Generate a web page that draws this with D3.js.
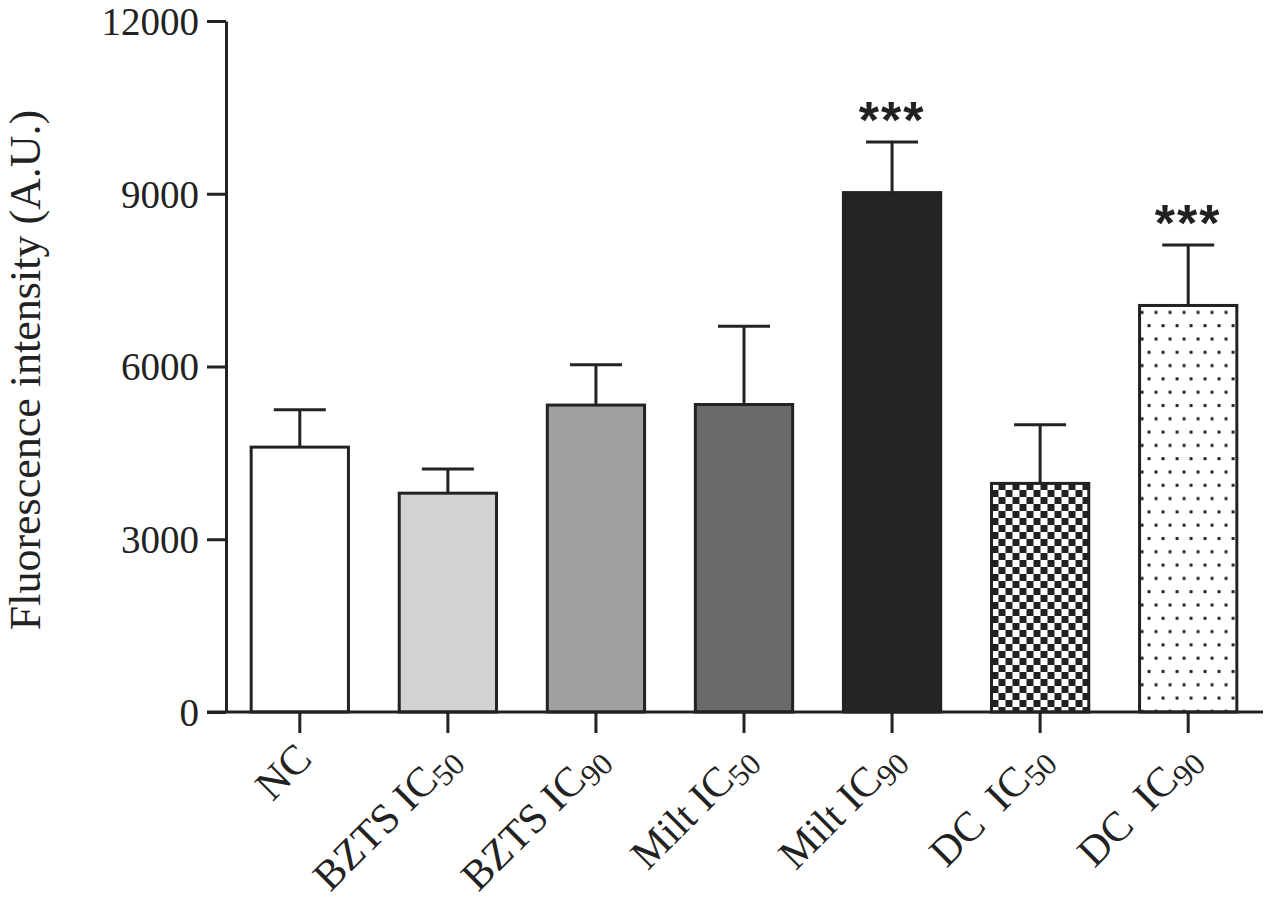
<!DOCTYPE html>
<html>
<head>
<meta charset="utf-8">
<script src="https://cdn.jsdelivr.net/npm/d3@7"></script>
<style>
  body { margin: 0; background: #fff; }
  svg { display: block; }
  text { font-family: "Liberation Serif", "Times New Roman", serif; fill: #222; }
</style>
</head>
<body>
<svg id="grafica" width="1267" height="903"></svg>
<script>
// groups on the x axis, main label + subscript
var groups = ["NC", "BZTS IC50", "BZTS IC90", "Milt IC50", "Milt IC90", "DC IC50", "DC IC90"]
var labelMain = ["NC", "BZTS IC", "BZTS IC", "Milt IC", "Milt IC", "DC  IC", "DC  IC"]
var labelSub = ["", "50", "90", "50", "90", "50", "90"]
var means = [4600, 3800, 5330, 5340, 9020, 3970, 7060]
var errors = [650, 420, 700, 1360, 880, 1020, 1050]
var stars = ["", "", "", "", "***", "", "***"]
var yTicks = [0, 3000, 6000, 9000, 12000]

var fills = ["#ffffff", "#d2d2d2", "#a0a0a0", "#6a6a6a", "#242424", "url(#checker)", "url(#dots)"]

var data = groups.map((g, i) => ({
	name: g, main: labelMain[i], sub: labelSub[i],
	value: means[i], err: errors[i], star: stars[i], fill: fills[i]
}))

var svg = d3.select("#grafica"),
	ink = "#222"

var x = d3.scaleBand()
	.domain(groups)
	.range([226, 1262])
	.paddingInner(0.343)
	.paddingOuter(0.17)

var y = d3.scaleLinear()
	.domain([0, 12000])
	.range([712, 21])

// patterns for the DC bars
var defs = svg.append("defs")
var checker = defs.append("pattern")
	.attr("id", "checker")
	.attr("patternUnits", "userSpaceOnUse")
	.attr("x", x("DC IC50"))
	.attr("y", 0)
	.attr("width", 14).attr("height", 14)
checker.append("rect").attr("width", 14).attr("height", 14).attr("fill", "#fff")
checker.append("rect").attr("width", 7).attr("height", 7).attr("fill", ink)
checker.append("rect").attr("x", 7).attr("y", 7).attr("width", 7).attr("height", 7).attr("fill", ink)

var dots = defs.append("pattern")
	.attr("id", "dots")
	.attr("patternUnits", "userSpaceOnUse")
	.attr("x", x("DC IC90") + 2)
	.attr("y", 0)
	.attr("width", 14).attr("height", 26.6)
dots.append("rect").attr("width", 14).attr("height", 26.6).attr("fill", "#fff")
dots.append("rect").attr("x", 6).attr("y", 5).attr("width", 3).attr("height", 3).attr("fill", ink)
dots.append("rect").attr("x", -1).attr("y", 18.3).attr("width", 3).attr("height", 3).attr("fill", ink)
dots.append("rect").attr("x", 13).attr("y", 18.3).attr("width", 3).attr("height", 3).attr("fill", ink)

// bars
svg.selectAll(".bar")
	.data(data)
	.enter().append("rect")
	.attr("class", "bar")
	.attr("x", d => x(d.name))
	.attr("y", d => y(d.value))
	.attr("width", x.bandwidth())
	.attr("height", d => y(0) - y(d.value))
	.attr("fill", d => d.fill)
	.attr("stroke", ink)
	.attr("stroke-width", 3)

// error bars (upper only)
var eb = svg.selectAll(".err")
	.data(data)
	.enter().append("g")
	.attr("class", "err")
	.attr("stroke", ink)
	.attr("stroke-width", 3)
eb.append("line")
	.attr("x1", d => x(d.name) + x.bandwidth() / 2)
	.attr("x2", d => x(d.name) + x.bandwidth() / 2)
	.attr("y1", d => y(d.value))
	.attr("y2", d => y(d.value + d.err))
eb.append("line")
	.attr("x1", d => x(d.name) + x.bandwidth() / 2 - 26)
	.attr("x2", d => x(d.name) + x.bandwidth() / 2 + 26)
	.attr("y1", d => y(d.value + d.err))
	.attr("y2", d => y(d.value + d.err))

// significance
svg.selectAll(".star")
	.data(data.filter(d => d.star))
	.enter().append("text")
	.attr("class", "star")
	.attr("x", d => x(d.name) + x.bandwidth() / 2)
	.attr("y", d => y(d.value + d.err) - 4)
	.attr("text-anchor", "middle")
	.style("font-family", "'Liberation Sans', Arial, sans-serif")
	.style("font-weight", "bold")
	.style("font-size", "52px")
	.style("letter-spacing", "2px")
	.text(d => d.star)

// y axis
var yAxis = svg.append("g")
	.attr("class", "y-axis")
	.attr("transform", "translate(226,0)")
	.call(d3.axisLeft(y).tickValues(yTicks).tickFormat(d3.format("d")).tickSize(19).tickPadding(8).tickSizeOuter(0))
yAxis.select(".domain").attr("stroke", ink).attr("stroke-width", 3)
yAxis.selectAll(".tick line").attr("stroke", ink).attr("stroke-width", 3)
yAxis.selectAll("text")
	.style("font-family", "'Liberation Serif', serif")
	.style("font-size", "39px")
	.attr("dy", "0.34em")
	.attr("fill", ink)

// x axis
var xAxis = svg.append("g")
	.attr("class", "x-axis")
	.attr("transform", "translate(0,712)")
	.call(d3.axisBottom(x).tickSize(21).tickSizeOuter(0).tickFormat(""))
xAxis.select(".domain").attr("stroke", ink).attr("stroke-width", 3)
	.attr("d", "M207,0H1263")
xAxis.selectAll(".tick line").attr("stroke", ink).attr("stroke-width", 3)

var lab = svg.selectAll(".xlab")
	.data(data)
	.enter().append("text")
	.attr("class", "xlab")
	.attr("text-anchor", "end")
	.attr("transform", d => `translate(${x(d.name) + x.bandwidth() / 2 + 14},761) rotate(-45)`)
	.style("font-size", "42px")
	.style("white-space", "pre")
lab.append("tspan").text(d => d.main)
lab.append("tspan")
	.attr("dy", 7)
	.style("font-size", "31px")
	.text(d => d.sub)

// y label
svg.append("text")
	.attr("transform", "translate(40,370) rotate(-90)")
	.attr("text-anchor", "middle")
	.style("font-size", "44px")
	.text("Fluorescence intensity (A.U.)")
</script>
</body>
</html>
